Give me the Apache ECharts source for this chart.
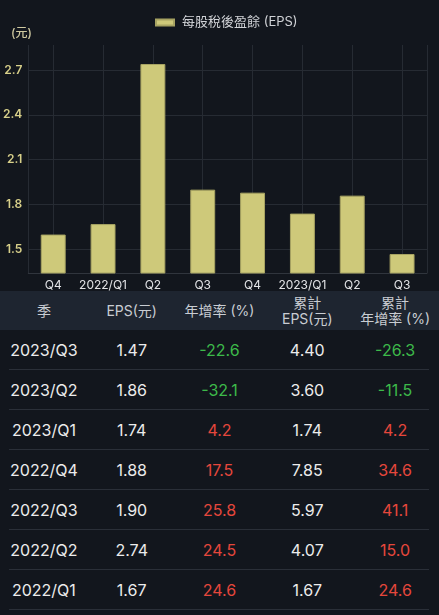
<!DOCTYPE html>
<html>
<head>
<meta charset="utf-8">
<script src="https://cdn.jsdelivr.net/npm/echarts@6/dist/echarts.min.js"></script>
<style>
  html, body { margin: 0; padding: 0; background: #12161d; }
  body { width: 439px; height: 615px; overflow: hidden; font-family: Inter, "Noto Sans CJK TC", sans-serif; }
  #chart { width: 439px; height: 291px; }
  table { width: 439px; border-collapse: collapse; table-layout: fixed; }
  th { background: #1e2530; color: #c9cdd3; font-weight: 400; font-size: 14px; line-height: 16px; height: 39px; padding: 0; }
  td { color: #ececec; font-size: 16px; height: 40px; padding: 0; text-align: center; position: relative; }
  td.up { color: #e5473c; }
  td.down { color: #3dba4a; }
  tr.row td::after { content: ''; position: absolute; left: 0; right: 0; bottom: 0; height: 1px; background: #2a2f38; }
  tr.row td:first-child::after { left: 9px; }
  tr.row td:last-child::after { right: 10px; }
</style>
</head>
<body>
<div id="chart"></div>
<table id="tbl"></table>
<script>
'use strict';
// 每股稅後盈餘 - 柱狀圖 + 季度表格
const categories = ['Q4', '2022/Q1', 'Q2', 'Q3', 'Q4', '2023/Q1', 'Q2', 'Q3'];
const eps = [1.60, 1.67, 2.74, 1.90, 1.88, 1.74, 1.86, 1.47];
const yRange = { min: 1.343, max: 2.867 };

// 表格（最新季在上）
const headers = ['季', 'EPS(元)', '年增率 (%)', '累計<br>EPS(元)', '累計<br>年增率 (%)'];
const quarters = ['2023/Q3', '2023/Q2', '2023/Q1', '2022/Q4', '2022/Q3', '2022/Q2', '2022/Q1'];
const yoy = [-22.6, -32.1, 4.2, 17.5, 25.8, 24.5, 24.6];
const cumEps = [4.40, 3.60, 1.74, 7.85, 5.97, 4.07, 1.67];
const cumYoy = [-26.3, -11.5, 4.2, 34.6, 41.1, 15.0, 24.6];

const $ = (id) => document.getElementById(id);

const chart = echarts.init($('chart'));
chart.setOption({
  backgroundColor: '#12161d',
  animation: false,
  title: { text: '(元)', left: 11, top: 27, padding: 0, textStyle: { color: '#cfc9a0', fontSize: 12, fontWeight: 500, fontFamily: 'Inter, "Noto Sans CJK TC"' } },
  legend: {
    data: ['每股稅後盈餘 (EPS)'], top: 11, left: 150, itemWidth: 18, itemHeight: 6, itemGap: 10,
    icon: 'rect', textStyle: { color: '#d0d2d6', fontSize: 13, padding: [0, 0, 0, 3], fontFamily: 'Inter, "Noto Sans CJK TC"' }
  },
  grid: { left: 27, right: 12, top: 45, bottom: 18, containLabel: false },
  xAxis: [
    {
      type: 'category', data: categories,
      axisLine: { lineStyle: { color: '#30353d' } }, axisTick: { show: false },
      axisLabel: { color: '#e2e3e6', fontSize: 12, margin: 6, interval: 0, fontFamily: 'Inter' },
      splitLine: { show: false }
    },
    {
      // 只用來畫每根柱中心的垂直格線
      type: 'value', min: -0.5, max: 7.5, splitNumber: 8, position: 'bottom',
      axisLine: { show: false }, axisTick: { show: false }, axisLabel: { show: false },
      splitLine: { show: true, lineStyle: { color: '#262b33' } }
    }
  ],
  yAxis: {
    type: 'value', min: yRange.min, max: yRange.max, splitNumber: 5,
    axisLine: { show: false }, axisTick: { show: false },
    axisLabel: { color: '#d8d08a', fontSize: 12, fontWeight: 600, margin: 6, showMinLabel: false, showMaxLabel: false, fontFamily: 'Inter' },
    splitLine: { showMinLine: false, showMaxLine: false, lineStyle: { color: '#262b33' } }
  },
  series: [{
    name: '每股稅後盈餘 (EPS)', type: 'bar', data: eps, barWidth: '50%',
    itemStyle: { color: '#cec97a', borderColor: '#a7a362', borderWidth: 1 }
  }]
});

function cls(v) { return v < 0 ? 'down' : 'up'; }

let html = '<tr>' + headers.map((h) => `<th>${h}</th>`).join('') + '</tr>';
const tableEps = eps.slice(1).reverse();
quarters.forEach((q, i) => {
  html += '<tr class="row">' +
    `<td>${q}</td>` +
    `<td>${tableEps[i].toFixed(2)}</td>` +
    `<td class="${cls(yoy[i])}">${yoy[i].toFixed(1)}</td>` +
    `<td>${cumEps[i].toFixed(2)}</td>` +
    `<td class="${cls(cumYoy[i])}">${cumYoy[i].toFixed(1)}</td>` +
    '</tr>';
});
$('tbl').innerHTML = html;
</script>
</body>
</html>
